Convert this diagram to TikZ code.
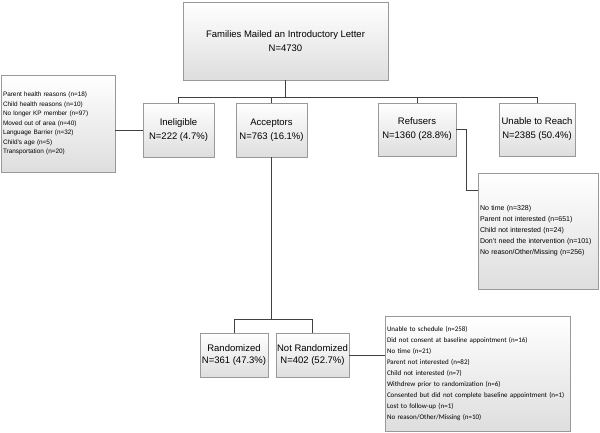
\documentclass[tikz,border=0pt]{standalone}
\usepackage{fontspec}
\setmainfont{Liberation Sans}
\newfontfamily\calibfont{Carlito}
\usetikzlibrary{shadows}

\begin{document}
\begin{tikzpicture}
  [
    x=1pt, y=-1pt,
    box/.style={draw=black!40, top color=white, bottom color=black!13,
      drop shadow={shadow xshift=1.2pt, shadow yshift=-1.2pt, fill=black!35},
      align=center, inner sep=1pt, font=\fontsize{9.5}{14}\selectfont},
    why/.style={box, align=left, inner sep=2pt, font=\fontsize{6.4}{9.5}\selectfont},
    link/.style={draw=black!75, line width=0.8pt}
  ]
  \useasboundingbox (0,0) rectangle (600,433);
  % top
  \node[box, minimum width=205pt, minimum height=78pt, font=\fontsize{9.5}{13.5}\selectfont] (top) at (285.5,41)
    {Families Mailed an Introductory Letter\\N=4730};
  % first split
  \node[box, minimum width=71pt, minimum height=54pt] (inel) at (178.5,130) {Ineligible\\N=222 (4.7\%)};
  \node[box, minimum width=71pt, minimum height=54pt] (acc) at (271.5,130) {Acceptors\\N=763 (16.1\%)};
  \node[box, minimum width=78pt, minimum height=53pt] (ref) at (417,129.5) {Refusers\\N=1360 (28.8\%)};
  \node[box, minimum width=76pt, minimum height=53pt] (unab) at (537,129.5) {Unable to Reach\\N=2385 (50.4\%)};
  % acceptors
  \node[box, minimum width=68pt, minimum height=44pt, font=\fontsize{9.5}{12}\selectfont] (rand) at (234,355) {Randomized\\N=361 (47.3\%)};
  \node[box, minimum width=73pt, minimum height=44pt, font=\fontsize{9.5}{12}\selectfont] (notrand) at (312.5,355) {Not Randomized\\N=402 (52.7\%)};
  % reasons
  \node[why, text width=110pt, minimum height=97pt] (inelwhy) at (58,123.5)
    {Parent health reasons (n=18)\\Child health reasons (n=10)\\No longer KP member (n=97)\\Moved out of area (n=40)\\
     Language Barrier (n=32)\\Child's age (n=5)\\Transportation (n=20)};
  \node[why, text width=116pt, minimum height=116pt, font=\fontsize{7}{11}\selectfont] (refwhy) at (538,231)
    {No time (n=328)\\Parent not interested (n=651)\\Child not interested (n=24)\\Don't need the intervention (n=101)\\
     No reason/Other/Missing (n=256)};
  \node[why, text width=181pt, minimum height=115pt, font=\calibfont\fontsize{7}{10.9}\selectfont] (notwhy) at (477.5,373.5)
    {Unable to schedule (n=258)\\Did not consent at baseline appointment (n=16)\\No time (n=21)\\Parent not interested (n=82)\\
     Child not interested (n=7)\\Withdrew prior to randomization (n=6)\\Consented but did not complete baseline appointment (n=1)\\
     Lost to follow-up (n=1)\\No reason/Other/Missing (n=10)};
  % links
  \coordinate (bus) at (285.5,97);
  \coordinate (split) at (271.5,319);
  \coordinate (refbend) at (466.7,190.7);
  \draw[link] (top) -- (bus);
  \foreach \n in {inel,acc,ref,unab} {
    \draw[link] (\n.north) |- (bus);
  }
  \draw[link] (acc) -- (split);
  \foreach \n in {rand,notrand} {
    \draw[link] (\n.north) |- (split);
  }
  \draw[link] (inelwhy.east |- inel.west) -- (inel.west);
  \draw[link] (ref.east) -| (refbend) -- (refbend -| refwhy.west);
  \draw[link] (notrand.east) -- (notrand.east -| notwhy.west);
\end{tikzpicture}
\end{document}
